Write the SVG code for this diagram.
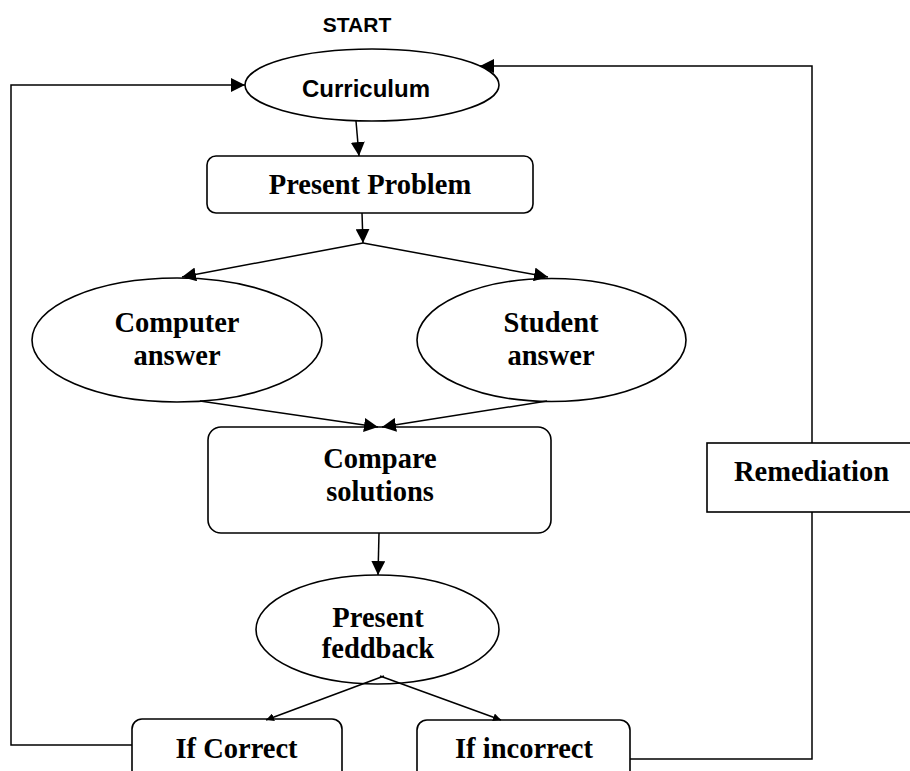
<svg xmlns="http://www.w3.org/2000/svg" width="910" height="771" viewBox="0 0 910 771">
<style>
.shape{fill:#fff;stroke:#000;stroke-width:1.6}
.conn{fill:none;stroke:#000;stroke-width:1.5}
.serif{font-family:"Liberation Serif","Times New Roman",serif;font-weight:bold;font-size:28.5px;fill:#000;text-anchor:middle}
.sans{font-family:"Liberation Sans",Arial,sans-serif;font-weight:bold;fill:#000;text-anchor:middle}
</style>
<defs>
<marker id="ah" markerUnits="userSpaceOnUse" markerWidth="16" markerHeight="14" refX="14" refY="7" orient="auto">
<path d="M0,0 L14,7 L0,14 Z" fill="#000"/>
</marker>
<marker id="ahs" markerUnits="userSpaceOnUse" markerWidth="10" markerHeight="8" refX="8" refY="4" orient="auto">
<path d="M0,0 L8,4 L0,8 Z" fill="#000"/>
</marker>
</defs>
<rect width="910" height="771" fill="#fff"/>
<g id="start">
<text class="sans" x="357" y="32" font-size="21">START</text>
</g>
<g id="curriculum">
<ellipse class="shape" cx="372" cy="85" rx="127" ry="36"/>
<text class="sans" x="366" y="97" font-size="24">Curriculum</text>
</g>
<g id="present-problem">
<rect class="shape" x="207" y="156" width="326" height="57" rx="9"/>
<text class="serif" x="370" y="194">Present Problem</text>
</g>
<g id="computer-answer">
<ellipse class="shape" cx="177" cy="340" rx="145" ry="62"/>
<text class="serif" x="177" y="332">Computer</text>
<text class="serif" x="177" y="365">answer</text>
</g>
<g id="student-answer">
<ellipse class="shape" cx="551.5" cy="340" rx="134.5" ry="61.5"/>
<text class="serif" x="551" y="332">Student</text>
<text class="serif" x="551" y="365">answer</text>
</g>
<g id="compare-solutions">
<rect class="shape" x="208" y="427" width="343" height="106" rx="13"/>
<text class="serif" x="380" y="468">Compare</text>
<text class="serif" x="380" y="501">solutions</text>
</g>
<g id="present-feedback">
<ellipse class="shape" cx="377.5" cy="629.5" rx="121.5" ry="54.5"/>
<text class="serif" x="378" y="627">Present</text>
<text class="serif" x="378" y="658">feddback</text>
</g>
<g id="if-correct">
<rect class="shape" x="132" y="719" width="210" height="70" rx="10"/>
<text class="serif" x="236.5" y="758">If Correct</text>
</g>
<g id="if-incorrect">
<rect class="shape" x="417" y="720" width="213" height="70" rx="10"/>
<text class="serif" x="524" y="758">If incorrect</text>
</g>
<g id="remediation">
<rect class="shape" x="707" y="443" width="220" height="69"/>
<text class="serif" x="811.5" y="481">Remediation</text>
</g>
<g id="connectors">
<line class="conn" x1="356" y1="121" x2="359" y2="156" marker-end="url(#ah)"/>
<line class="conn" x1="362" y1="213" x2="363" y2="243" marker-end="url(#ah)"/>
<line class="conn" x1="363" y1="243" x2="182" y2="277" marker-end="url(#ah)"/>
<line class="conn" x1="363" y1="243" x2="548" y2="277" marker-end="url(#ah)"/>
<line class="conn" x1="200" y1="401" x2="378" y2="427" marker-end="url(#ah)"/>
<line class="conn" x1="547" y1="401" x2="382" y2="427" marker-end="url(#ah)"/>
<line class="conn" x1="379" y1="533" x2="378" y2="575" marker-end="url(#ah)"/>
<line class="conn" x1="384" y1="676" x2="266" y2="720" marker-end="url(#ahs)"/>
<line class="conn" x1="380" y1="676" x2="501" y2="720" marker-end="url(#ahs)"/>
<polyline class="conn" points="132,745 11,745 11,85 245,85" marker-end="url(#ah)"/>
<polyline class="conn" points="630,759 812,759 812,512"/>
<polyline class="conn" points="812,443 812,66 480,66" marker-end="url(#ah)"/>
</g>
</svg>
